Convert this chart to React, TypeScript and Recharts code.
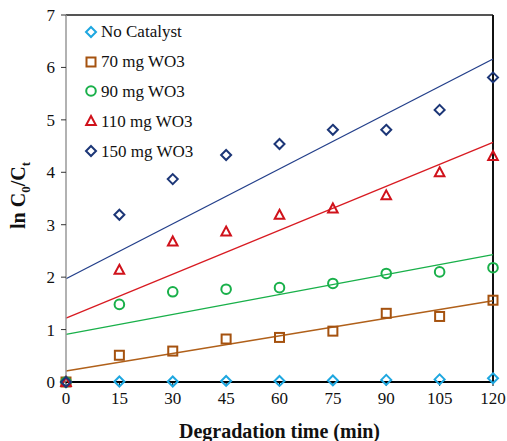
import React from 'react'
import { ComposedChart, Scatter, Line, XAxis, YAxis, ReferenceLine } from 'recharts'

const times = [0, 15, 30, 45, 60, 75, 90, 105, 120]
const noCatalyst = [0, 0.01, 0.01, 0.02, 0.02, 0.03, 0.04, 0.05, 0.07]
const wo3_70 = [0, 0.51, 0.59, 0.82, 0.85, 0.97, 1.31, 1.25, 1.56]
const wo3_90 = [0, 1.48, 1.72, 1.77, 1.8, 1.88, 2.07, 2.1, 2.18]
const wo3_110 = [0, 2.14, 2.68, 2.87, 3.19, 3.31, 3.56, 4.0, 4.31]
const wo3_150 = [0, 3.19, 3.87, 4.33, 4.54, 4.81, 4.81, 5.19, 5.81]

// linear fit lines, start / end values
const fitX = [0, 120]
const fit70 = [0.21, 1.55]
const fit90 = [0.91, 2.43]
const fit110 = [1.22, 4.57]
const fit150 = [1.97, 6.16]

const xTicks = [0, 15, 30, 45, 60, 75, 90, 105, 120]
const yTicks = [0, 1, 2, 3, 4, 5, 6, 7]

const FONT = '"Liberation Serif", "Times New Roman", Times, "DejaVu Serif", serif'

const pts = (ys: number[]) => times.map((t, i) => ({ x: t, y: ys[i] }))
const fit = (ys: number[]) => fitX.map((t, i) => ({ x: t, y: ys[i] }))

type Kind = 'diamond' | 'square' | 'circle' | 'triangle'

const Marker = ({ kind, cx, cy, color }: { kind: Kind; cx: number; cy: number; color: string }) => {
  const r = 5
  if (kind === 'diamond')
    return <polygon points={`${cx},${cy - r} ${cx + r},${cy} ${cx},${cy + r} ${cx - r},${cy}`} fill="none" stroke={color} strokeWidth={2} />
  if (kind === 'square')
    return <rect x={cx - 4.5} y={cy - 4.5} width={9} height={9} fill="none" stroke={color} strokeWidth={2} />
  if (kind === 'circle') return <circle cx={cx} cy={cy} r={4.8} fill="none" stroke={color} strokeWidth={2} />
  return <polygon points={`${cx},${cy - 5} ${cx + 4.8},${cy + 4} ${cx - 4.8},${cy + 4}`} fill="none" stroke={color} strokeWidth={2} />
}

const series = [
  { name: 'No Catalyst', data: noCatalyst, color: '#1ea7e0', kind: 'diamond' as Kind },
  { name: '70 mg WO3', data: wo3_70, color: '#a5520f', kind: 'square' as Kind },
  { name: '90 mg WO3', data: wo3_90, color: '#19b04a', kind: 'circle' as Kind },
  { name: '110 mg WO3', data: wo3_110, color: '#d0121b', kind: 'triangle' as Kind },
  { name: '150 mg WO3', data: wo3_150, color: '#1c3677', kind: 'diamond' as Kind },
]

const fits = [
  { data: fit70, color: '#b0601a' },
  { data: fit90, color: '#19b04a' },
  { data: fit110, color: '#d81b22' },
  { data: fit150, color: '#233f8a' },
]

// legend drawn over the plot, top-left corner
const LegendBox = () => (
  <div style={{ position: 'absolute', left: 84, top: 17, fontFamily: FONT, fontSize: 17, color: '#111', lineHeight: 1 }}>
    {series.map((s) => (
      <div key={s.name} style={{ display: 'flex', alignItems: 'center', height: 29.8 }}>
        <svg width={14} height={14} style={{ marginRight: 3 }}>
          <Marker kind={s.kind} cx={7} cy={7} color={s.color} />
        </svg>
        <span>{s.name}</span>
      </div>
    ))}
  </div>
)

const YTitle = (props: any) => {
  const vb = props.viewBox
  const cx = 25
  const cy = vb.y + vb.height / 2 - 3
  return (
    <text transform={`translate(${cx},${cy}) rotate(-90)`} textAnchor="middle" style={{ fontFamily: FONT }} fontWeight="bold" fontSize={20} fill="#111">
      <tspan>ln C</tspan>
      <tspan fontSize={13} dy={5}>0</tspan>
      <tspan dy={-5}>/C</tspan>
      <tspan fontSize={13} dy={5}>t</tspan>
    </text>
  )
}

export default function App() {
  return (
    <div style={{ position: 'absolute', left: 0, top: 0, width: 507, height: 441, background: '#fff' }}>
      <ComposedChart width={507} height={441} margin={{ top: 15, right: 14, bottom: 0, left: 0 }} style={{ fontFamily: FONT }}>
        <XAxis
          type="number"
          dataKey="x"
          domain={[0, 120]}
          ticks={xTicks}
          height={59}
          axisLine={{ stroke: '#000', strokeWidth: 2 }}
          tickLine={{ stroke: '#000' }}
          tickSize={4}
          tick={{ fontSize: 17, fill: '#111', style: { fontFamily: FONT } }}
          tickMargin={6}
          label={{ value: 'Degradation time (min)', position: 'insideBottom', offset: 3, fontWeight: 'bold', fontSize: 20, fill: '#111', style: { fontFamily: FONT } }}
        />
        <YAxis
          type="number"
          dataKey="y"
          domain={[0, 7]}
          ticks={yTicks}
          width={66}
          axisLine={{ stroke: '#999', strokeWidth: 1.5 }}
          tickLine={{ stroke: '#333' }}
          tickSize={5}
          tick={{ fontSize: 17, fill: '#111', style: { fontFamily: FONT } }}
          tickMargin={6}
          label={<YTitle />}
        />
        <ReferenceLine y={7} stroke="#555" strokeWidth={2} ifOverflow="visible" />
        <ReferenceLine x={120} stroke="#111" strokeWidth={2} ifOverflow="visible" />
        {fits.map((f, i) => (
          <Line
            key={'fit' + i}
            data={fit(f.data)}
            dataKey="y"
            type="linear"
            stroke={f.color}
            strokeWidth={1.3}
            dot={false}
            activeDot={false}
            legendType="none"
            isAnimationActive={false}
          />
        ))}
        {series.map((s) => (
          <Scatter
            key={s.name}
            name={s.name}
            data={pts(s.data)}
            isAnimationActive={false}
            shape={(p: any) => <Marker kind={s.kind} cx={p.cx} cy={p.cy} color={s.color} />}
          />
        ))}
      </ComposedChart>
      <LegendBox />
    </div>
  )
}
